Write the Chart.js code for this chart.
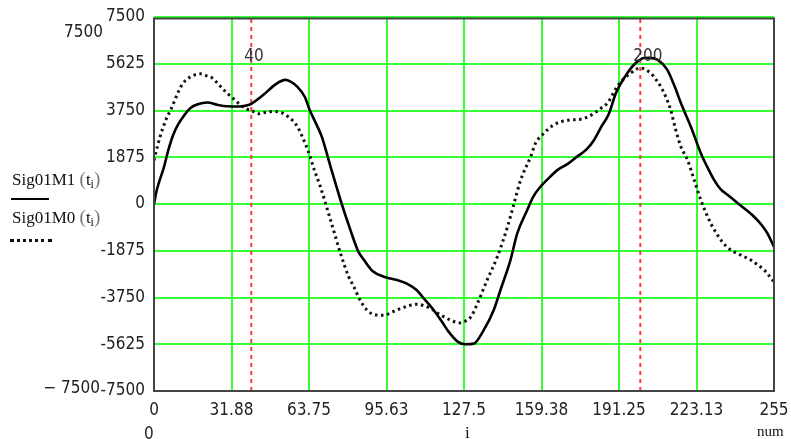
<!DOCTYPE html>
<html>
<head>
<meta charset="utf-8">
<script src="https://cdn.jsdelivr.net/npm/chart.js@4/dist/chart.umd.min.js"></script>
<style>
  html, body { margin: 0; padding: 0; background: #fff; }
  #wrap { position: relative; width: 791px; height: 439px; overflow: hidden; }
  #c { position: absolute; left: 0; top: 0; }
  .lbl { position: absolute; white-space: nowrap; color: #222;
         font-family: "Liberation Sans Narrow", "DejaVu Sans Condensed", "Liberation Sans", sans-serif; font-size: 17px; line-height: 1; }
  .ser { position: absolute; white-space: nowrap; color: #111;
         font-family: "Liberation Serif", "DejaVu Serif", serif; font-size: 17px; line-height: 1; }
  .par { color: #777; font-size: 19px; }
  .ser sub { font-size: 12px; vertical-align: -3px; }
</style>
</head>
<body>
<div id="wrap">
  <canvas id="c" width="791" height="439"></canvas>
  <div class="lbl" style="right:688px; top:23px;">7500</div>
  <div class="lbl" style="right:691px; top:379px;">−&nbsp;7500</div>
  <div class="lbl" style="left:144px; top:425px;">0</div>
  <div class="ser" style="left:465px; top:424px;">i</div>
  <div class="ser" style="left:757px; top:424px; font-size:15px;">num</div>
  <div class="ser" style="left:12px; top:169px;">Sig01M1 <span class="par">(</span>t<sub>i</sub><span class="par">)</span></div>
  <div style="position:absolute; left:11px; top:198px; width:38px; height:2px; background:#000;"></div>
  <div class="ser" style="left:12px; top:207px;">Sig01M0 <span class="par">(</span>t<sub>i</sub><span class="par">)</span></div>
  <div style="position:absolute; left:10px; top:239px; width:42px; height:0; border-top:3px dotted #111;"></div>
</div>
<script>
// ---- data ----
const xTickVals = [0, 31.875, 63.75, 95.625, 127.5, 159.375, 191.25, 223.125, 255];
const xTickLabels = ['0', '31.88', '63.75', '95.63', '127.5', '159.38', '191.25', '223.13', '255'];
const yTickVals = [-7500, -5625, -3750, -1875, 0, 1875, 3750, 5625, 7500];
const yTickLabels = ['-7500', '-5625', '-3750', '-1875', '0', '1875', '3750', '5625', '7500'];
const markerIdx = [40, 200];
const markerLabels = ['40', '200'];

// Sig01M1 (solid)
const m1I = [0, 1, 2, 4, 6, 8, 10, 12, 15, 18, 22, 26, 30, 35, 38, 40, 45, 50, 54, 56, 59, 62, 64, 67, 69, 72.6, 76.7, 80.8, 84, 86.4, 90, 94.6, 100, 104, 108, 111, 115, 118, 121, 125, 128, 131.5, 135.6, 139.7, 142.5, 146.6, 149.4, 153.5, 156, 159, 163, 166, 170, 174, 178, 181, 184, 187, 190, 194, 197.4, 201.5, 204, 207, 211, 214, 216.7, 220.8, 224.9, 228, 230.4, 233, 236, 241, 246.8, 250, 252.3, 255];
const m1V = [0, 500, 850, 1450, 2200, 2800, 3200, 3500, 3850, 4000, 4070, 3980, 3920, 3910, 3950, 4020, 4380, 4800, 4980, 4920, 4700, 4300, 3780, 3150, 2700, 1500, 160, -1050, -1900, -2250, -2700, -2920, -3050, -3190, -3450, -3790, -4250, -4660, -5100, -5530, -5625, -5600, -5060, -4260, -3450, -2250, -1180, -240, 300, 700, 1100, 1370, 1600, 1900, 2200, 2570, 3100, 3600, 4450, 5150, 5585, 5854, 5860, 5790, 5400, 4750, 4050, 3100, 2040, 1400, 960, 600, 360, -40, -510, -850, -1180, -1720];

// Sig01M0 (dotted)
const m0I = [0, 1, 2.5, 5, 7, 10, 12, 15, 19, 22, 24, 27, 30, 33, 35.5, 38, 40, 43, 46, 49, 52, 54, 57, 59, 61, 63.5, 66, 68.4, 72.6, 76.7, 80, 82.2, 85, 87.7, 91, 94.6, 98, 101.5, 105, 108.3, 111, 113.8, 117, 119.3, 123, 126, 128, 130.3, 133, 137, 141.2, 145.4, 148.1, 150.8, 154.9, 157, 160.4, 164, 167.3, 171, 175.5, 179, 181, 184, 186.5, 190.5, 193, 196, 200, 204.3, 206, 208.4, 210.5, 212.5, 214.5, 216.7, 219.4, 222.2, 224.9, 229, 233.2, 236, 238.6, 242, 245.5, 248, 251, 253, 255];
const m0V = [1750, 2150, 2700, 3400, 3800, 4500, 4850, 5100, 5220, 5130, 5050, 4750, 4450, 4200, 3980, 3820, 3750, 3620, 3680, 3710, 3680, 3580, 3350, 3100, 2700, 2100, 1350, 700, -640, -1980, -2900, -3320, -3900, -4260, -4450, -4460, -4330, -4190, -4070, -4020, -4080, -4190, -4400, -4530, -4700, -4770, -4700, -4530, -4000, -3050, -2120, -910, 30, 960, 1900, 2450, 2840, 3150, 3300, 3370, 3400, 3520, 3640, 3850, 4050, 4710, 5000, 5250, 5450, 5250, 5050, 4710, 4300, 3780, 3000, 2300, 1770, 960, 160, -780, -1450, -1750, -1920, -2080, -2250, -2420, -2650, -2880, -3120];

const markerLabelY = 5900;

// ---- chart ----
const toPts = (xs, ys) => xs.map((x, k) => ({ x: x, y: ys[k] }));
const tickFont = { family: '"Liberation Sans Narrow", "DejaVu Sans Condensed", "Liberation Sans", sans-serif', size: 17 };
const GREEN = '#33ff33';

const datasets = [];
markerIdx.forEach(m => {
  datasets.push({
    data: [{ x: m, y: -7500 }, { x: m, y: 7500 }],
    borderColor: 'rgba(255,40,40,0.9)', borderWidth: 2, borderDash: [4, 4],
    pointRadius: 0, tension: 0, order: 3
  });
});
datasets.push({
  label: 'Sig01M1(t_i)', data: toPts(m1I, m1V),
  borderColor: '#000', borderWidth: 2.6, pointRadius: 0, cubicInterpolationMode: 'monotone', order: 1
});
datasets.push({
  label: 'Sig01M0(t_i)', data: toPts(m0I, m0V),
  borderColor: '#111', borderWidth: 3, borderDash: [2.5, 3.5], pointRadius: 0, cubicInterpolationMode: 'monotone', order: 2
});

const framePlugin = {
  id: 'frame',
  afterDraw(chart) {
    const { ctx, chartArea: a, scales } = chart;
    ctx.save();
    ctx.strokeStyle = '#444';
    ctx.lineWidth = 2;
    ctx.strokeRect(a.left, a.top + 1.5, a.right - a.left, a.bottom - a.top - 1.5);
    ctx.fillStyle = '#333';
    ctx.font = '17px ' + tickFont.family;
    ctx.textBaseline = 'middle';
    ctx.textAlign = 'left';
    markerIdx.forEach((m, k) => {
      const px = scales.x.getPixelForValue(m);
      const py = scales.y.getPixelForValue(markerLabelY);
      ctx.fillText(markerLabels[k], px - 7, py);
    });
    ctx.restore();
  }
};

new Chart(document.getElementById('c'), {
  type: 'line',
  data: { datasets },
  options: {
    responsive: false,
    animation: false,
    devicePixelRatio: 1,
    layout: { padding: { left: 0, top: 17, right: 17, bottom: 0 } },
    plugins: { legend: { display: false }, tooltip: { enabled: false } },
    scales: {
      x: {
        type: 'linear', min: 0, max: 255,
        afterBuildTicks: s => { s.ticks = xTickVals.map(v => ({ value: v })); },
        afterFit: s => { s.height = 48; s.paddingLeft = 0; s.paddingRight = 0; },
        ticks: { autoSkip: false, maxRotation: 0, padding: 9, color: '#222', font: tickFont,
                 callback: (v, i) => xTickLabels[i] },
        grid: { color: GREEN, lineWidth: 2, drawTicks: false },
        border: { display: false }
      },
      y: {
        type: 'linear', min: -7500, max: 7500,
        afterBuildTicks: s => { s.ticks = yTickVals.map(v => ({ value: v })); },
        afterFit: s => { s.width = 154; s.paddingTop = 0; s.paddingBottom = 0; },
        ticks: { autoSkip: false, padding: 9, color: '#222', font: tickFont,
                 callback: (v, i) => yTickLabels[i] },
        grid: { color: GREEN, lineWidth: 2, drawTicks: false },
        border: { display: false }
      }
    }
  },
  plugins: [framePlugin]
});
</script>
</body>
</html>
